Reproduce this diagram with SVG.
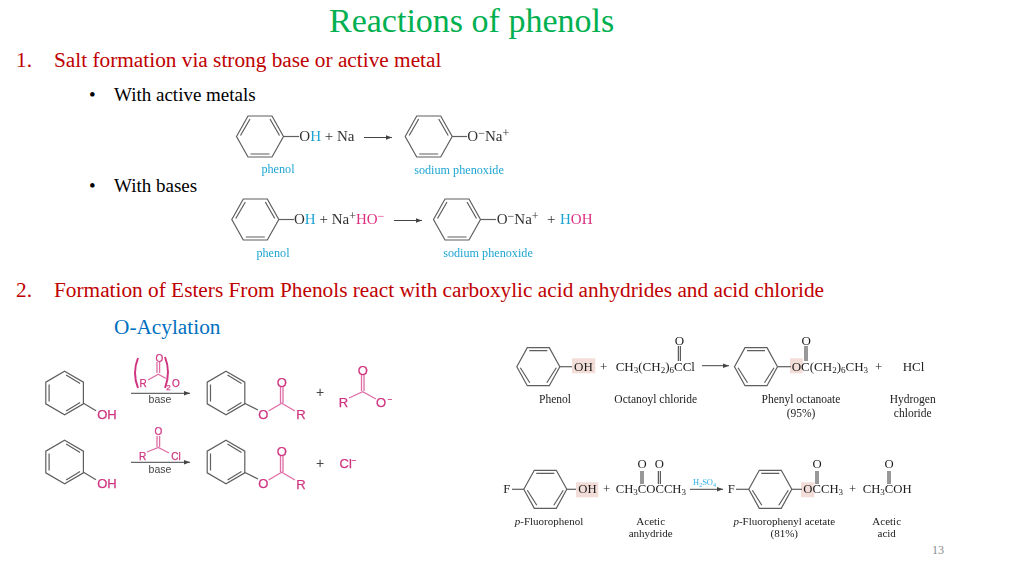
<svg xmlns="http://www.w3.org/2000/svg" width="1024" height="576" viewBox="0 0 1024 576">
<style>
text{font-family:"Liberation Serif","Times New Roman",serif}
.h{font-size:21.3px;fill:#C00000}
.b{font-size:19px;fill:#000}
.t{font-size:15px;fill:#333}
.cy{font-size:12.200px;fill:#1FA5D2;text-anchor:middle}
.l{font-size:11.500px;fill:#222;text-anchor:middle}
.l2{font-size:11px;fill:#222;text-anchor:middle}
.f{font-size:13px;fill:#1c1c1c}
.f2{font-size:12.700px;fill:#1c1c1c}
.s{font-family:"Liberation Sans",Arial,sans-serif;fill:#CF3580;font-size:13px;text-anchor:middle;stroke:#CF3580;stroke-width:.25}
.sm{font-size:10px}
.bs{font-family:"Liberation Sans",Arial,sans-serif;fill:#444;font-size:10.500px;text-anchor:middle}
.g{fill:none;stroke:#5e5e5e;stroke-width:1.200}
.d{fill:none;stroke:#333;stroke-width:1}
.p{fill:none;stroke:#DF6EA6;stroke-width:1.300}
.a{fill:none;stroke:#444;stroke-width:1;marker-end:url(#ah)}
.hl{fill:#F2DDD9}
.soft{filter:url(#sf)}
</style>
<defs>
<filter id="sf" x="-5%" y="-5%" width="110%" height="110%"><feGaussianBlur stdDeviation="0.3"/></filter>
<marker id="ah" markerWidth="7" markerHeight="6" refX="6" refY="3" orient="auto" markerUnits="userSpaceOnUse"><path d="M0 .7L6 3L0 5.300z" fill="#444"/></marker>
<path id="r1" d="M-23.500 0L-12 -20.500H12L23.500 0L12 20.500H-12ZM-19.500 -1L-10 -17.500M19.500 -1L10 -17.500M-9.500 17.500H9.500"/>
<path id="r2" d="M-21.500 0L-11 -19H11L21.500 0L11 19H-11ZM-9 -16H9M-18 1L-8.500 16M18 1L8.500 16"/>
<path id="r3" d="M0 -21.700L18.800 -10.800V10.800L0 21.700L-18.800 10.800V-10.800ZM1.500 -18L15.500 -9.500M-15.500 -8.500V8.500M1.500 18L15.500 9.500"/>
</defs>

<text x="329" y="32" font-size="34" fill="#00B050">Reactions of phenols</text>
<text class="h" x="16" y="67">1.</text>
<text class="h" x="54" y="67">Salt formation via strong base or active metal</text>
<text class="b" x="89" y="101">•</text>
<text class="b" x="114" y="101">With active metals</text>
<text class="b" x="89" y="192">•</text>
<text class="b" x="114" y="192">With bases</text>
<text class="h" x="16" y="297">2.</text>
<text class="h" x="54" y="297">Formation of Esters From Phenols react with carboxylic acid anhydrides and acid chloride</text>
<text x="114" y="334" font-size="21.300" fill="#0070C0">O-Acylation</text>
<text x="932" y="554" font-size="12" fill="#8a8a8a">13</text>

<g id="reaction-na" class="soft">
<use href="#r1" x="260" y="136.500" class="g"/><path class="g" d="M283.500 136.500H299"/>
<text class="t" x="299.300" y="140.700">O<tspan fill="#1FA5D2">H</tspan> + Na</text>
<use href="#r1" x="428.700" y="136.500" class="g"/><path class="g" d="M452 136.500H467"/>
<text class="t" x="467.300" y="140.700">O<tspan font-size="12" dy="-4">−</tspan><tspan dy="4">Na</tspan><tspan font-size="12" dy="-4">+</tspan></text>
<text class="cy" x="278" y="173">phenol</text>
<text class="cy" x="459" y="174">sodium phenoxide</text>
</g>

<g id="reaction-naoh" class="soft">
<use href="#r1" x="255.300" y="219.500" class="g"/><path class="g" d="M279 219.500H294"/>
<text class="t" x="294" y="224.300">O<tspan fill="#1FA5D2">H</tspan> + Na<tspan font-size="12" dy="-4">+</tspan><tspan fill="#DE2F80" dy="4">HO</tspan><tspan fill="#DE2F80" font-size="12" dy="-4">−</tspan></text>
<use href="#r1" x="457" y="219.500" class="g"/><path class="g" d="M480.500 219.500H496"/>
<text class="t" x="496.700" y="224.300">O<tspan font-size="12" dy="-4">−</tspan><tspan dy="4">Na</tspan><tspan font-size="12" dy="-4">+</tspan></text>
<text class="t" x="547" y="224.300">+</text>
<text class="t" x="560" y="224.300"><tspan fill="#1FA5D2">H</tspan><tspan fill="#DE2F80">OH</tspan></text>
<text class="cy" x="273" y="257">phenol</text>
<text class="cy" x="488" y="257">sodium phenoxide</text>
</g>

<g id="reaction-anhydride" class="soft">
<use href="#r3" x="64.600" y="393" class="g"/><path class="g" d="M83.500 403.300L96 410.700"/>
<text class="s" x="107" y="419">OH</text>
<g id="anhydride-reagent">
<path d="M138 358Q132 373 138 388M165 357Q171 372 165 388" fill="none" stroke="#CF3580" stroke-width="2"/>
<text class="s sm" x="143" y="387">R</text>
<path class="p" d="M148 380L158.300 374.300L166 378.500M157 373V362M159.600 373V362"/>
<text class="s sm" x="159.300" y="361.500">O</text>
<text class="s" x="168.500" y="390" style="font-size:8px">2</text>
<text class="s sm" x="176" y="387">O</text>
</g>
<text class="bs" x="160" y="403">base</text>
<use href="#r3" x="226" y="393" class="g"/>
<path class="g" d="M244.500 403.300L258 410"/>
<path class="p" d="M268.500 411L281.700 403.300L295 411M280.500 403V387M283 403V387"/>
<text class="s" x="263.300" y="419">O</text><text class="s" x="281.700" y="386.500">O</text><text class="s" x="301" y="419">R</text>
<text class="bs" x="320" y="397" style="font-size:14px">+</text>
<path class="p" d="M349 398L362.700 391.700L376 399M361.500 391V375M364 391V375"/>
<text class="s" x="343.500" y="407">R</text><text class="s" x="362.700" y="375">O</text>
<text class="s" x="381" y="407">O</text><text class="s" x="390" y="402" style="font-size:8px">−</text>
</g>

<g id="reaction-chloride" class="soft">
<use href="#r3" x="64.600" y="462" class="g"/><path class="g" d="M83.500 472.300L96 479.700"/>
<text class="s" x="107" y="488">OH</text>
<text class="s sm" x="158.300" y="435">O</text>
<path class="p" d="M147 452L158.300 447.500L169 453M157 447V436M159.600 447V436"/>
<text class="s sm" x="142.500" y="460">R</text>
<text class="s sm" x="176" y="460">Cl</text>
<text class="bs" x="160" y="473">base</text>
<use href="#r3" x="226" y="462" class="g"/>
<path class="g" d="M244.500 472.300L258 479"/>
<path class="p" d="M268.500 480L281.700 472.300L295 480M280.500 472V456M283 472V456"/>
<text class="s" x="263.300" y="488">O</text><text class="s" x="281.700" y="456">O</text><text class="s" x="301" y="488.500">R</text>
<text class="bs" x="320" y="468" style="font-size:14px">+</text>
<text class="s" x="348" y="468">Cl<tspan font-size="8" dy="-5">−</tspan></text>
</g>

<g id="reaction-octanoyl" class="soft">
<rect class="hl" x="572" y="358.300" width="23.300" height="15"/>
<rect class="hl" x="790" y="358.300" width="12.700" height="15"/>
<use href="#r2" x="538.300" y="366.700" class="g"/><path class="g" d="M560 366.700H572"/>
<text class="f" x="574" y="370.500">OH</text>
<text class="f" x="600" y="370.500">+</text>
<text class="f" x="615.700" y="370.500">CH<tspan font-size="9" dy="2">3</tspan><tspan dy="-2">(CH</tspan><tspan font-size="9" dy="2">2</tspan><tspan dy="-2">)</tspan><tspan font-size="9" dy="2">6</tspan><tspan dy="-2">CCl</tspan></text>
<text class="f" x="674.800" y="345">O</text>
<path class="d" d="M678.300 346V361M680.300 346V361"/>
<use href="#r2" x="756" y="366.700" class="g"/><path class="g" d="M777.700 366.700H791"/>
<text class="f" x="791.700" y="370.500">OC(CH<tspan font-size="9" dy="2">2</tspan><tspan dy="-2">)</tspan><tspan font-size="9" dy="2">6</tspan><tspan dy="-2">CH</tspan><tspan font-size="9" dy="2">3</tspan></text>
<text class="f" x="875" y="370.500">+</text>
<text class="f" x="902.700" y="370.500">HCl</text>
<text class="f" x="801.500" y="345">O</text>
<path class="d" d="M805 346V361M807 346V361"/>
<text class="l" x="555" y="403.300">Phenol</text>
<text class="l" x="655.700" y="403.300">Octanoyl chloride</text>
<text class="l" x="801" y="403.300">Phenyl octanoate</text>
<text class="l" x="801" y="416.700">(95%)</text>
<text class="l" x="912.700" y="403.300">Hydrogen</text>
<text class="l" x="912.700" y="416.700">chloride</text>
</g>

<g id="reaction-fluoro" class="soft">
<rect class="hl" x="576" y="482.300" width="22.300" height="15"/>
<rect class="hl" x="801" y="482.300" width="13.300" height="15"/>
<text class="f2" x="503.300" y="493.300">F</text>
<path class="g" d="M512 489.300H524"/>
<use href="#r2" x="545.300" y="489.300" class="g"/>
<path class="g" d="M567 489.300H576"/>
<text class="f2" x="578.300" y="493.300">OH</text>
<text class="f2" x="603" y="493.300">+</text>
<text class="f2" x="615.700" y="493.300">CH<tspan font-size="9" dy="2">3</tspan><tspan dy="-2">COCCH</tspan><tspan font-size="9" dy="2">3</tspan></text>
<text class="f2" x="637.500" y="468.300">O</text><text class="f2" x="654.800" y="468.300">O</text>
<path class="d" d="M641 471V484M643 471V484M658.300 471V484M660.300 471V484"/>
<text x="704.500" y="485" font-size="8.500" fill="#2FB0E8" text-anchor="middle">H<tspan font-size="6" dy="1.500">2</tspan><tspan dy="-1.500">SO</tspan><tspan font-size="6" dy="1.500">4</tspan></text>
<text class="f2" x="727.700" y="493.300">F</text>
<path class="g" d="M736 489.300H749"/>
<use href="#r2" x="770.300" y="489.300" class="g"/>
<path class="g" d="M791.500 489.300H802"/>
<text class="f2" x="803.300" y="493.300">OCCH<tspan font-size="9" dy="2">3</tspan></text>
<text class="f2" x="812.500" y="468.300">O</text>
<path class="d" d="M816 471V484M818 471V484"/>
<text class="f2" x="849" y="493.300">+</text>
<text class="f2" x="862.700" y="493.300">CH<tspan font-size="9" dy="2">3</tspan><tspan dy="-2">COH</tspan></text>
<text class="f2" x="884.500" y="468.300">O</text>
<path class="d" d="M888 471V484M890 471V484"/>
<text class="l2" x="549" y="525"><tspan font-style="italic">p</tspan>-Fluorophenol</text>
<text class="l2" x="650.700" y="525">Acetic</text>
<text class="l2" x="650.700" y="537.300">anhydride</text>
<text class="l2" x="784.300" y="525"><tspan font-style="italic">p</tspan>-Fluorophenyl acetate</text>
<text class="l2" x="784.300" y="537.300">(81%)</text>
<text class="l2" x="886.700" y="525">Acetic</text>
<text class="l2" x="886.700" y="537.300">acid</text>
</g>

<g id="connectors">
<path class="a" d="M364 137.500H392"/>
<path class="a" d="M394 220.500H422"/>
<path class="a" d="M131 393.300H190"/>
<path class="a" d="M131 462.300H190"/>
<path class="a" d="M702 365.700H729"/>
<path class="a" d="M690 489.300H723"/>
</g>
</svg>
